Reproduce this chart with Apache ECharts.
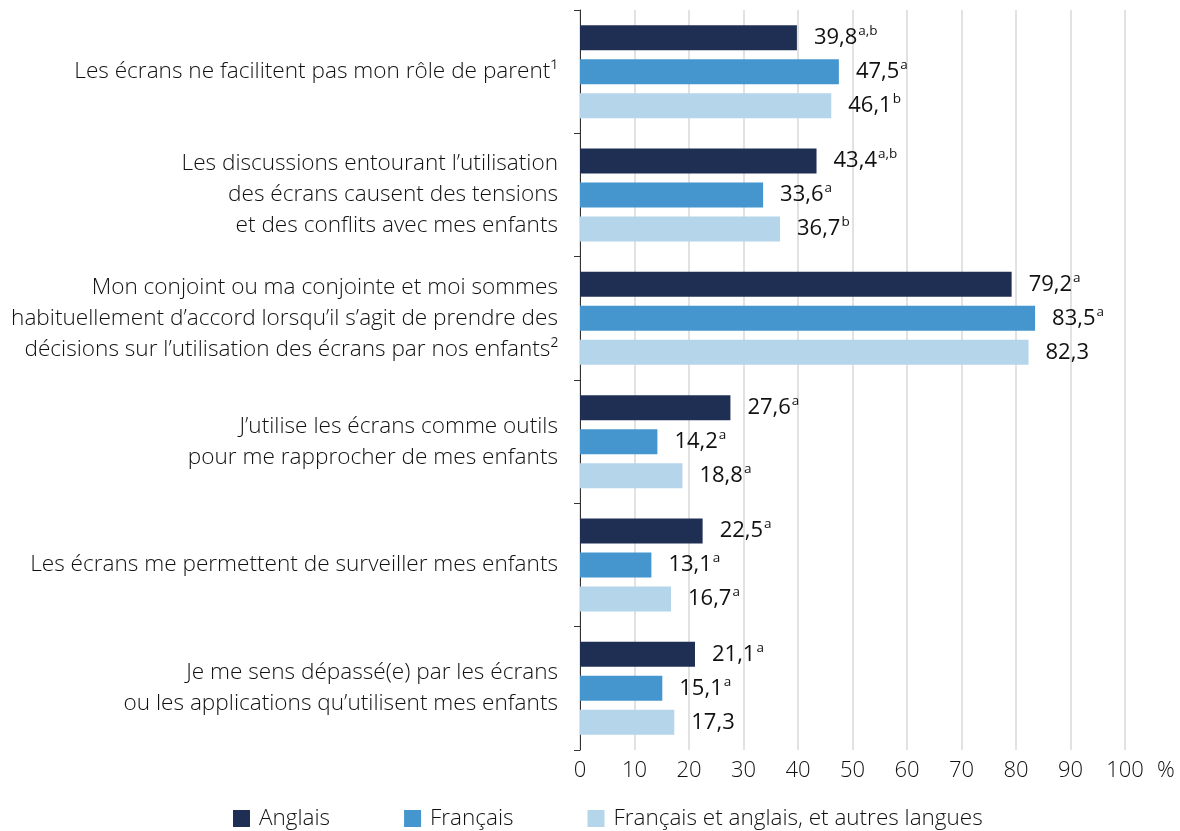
<!DOCTYPE html>
<html><head><meta charset="utf-8">
<script src="https://cdn.jsdelivr.net/npm/echarts@6/dist/echarts.min.js"></script>
<style>html,body{margin:0;padding:0;background:#fff}#c{width:1180px;height:831px}</style>
</head><body><div id="c"></div>
<script>
var categories = [
  "Les écrans ne facilitent pas mon rôle de parent¹",
  "Les discussions entourant l’utilisation\ndes écrans causent des tensions\net des conflits avec mes enfants",
  "Mon conjoint ou ma conjointe et moi sommes\nhabituellement d’accord lorsqu’il s’agit de prendre des\ndécisions sur l’utilisation des écrans par nos enfants²",
  "J’utilise les écrans comme outils\npour me rapprocher de mes enfants",
  "Les écrans me permettent de surveiller mes enfants",
  "Je me sens dépassé(e) par les écrans\nou les applications qu’utilisent mes enfants"
];
var seriesNames = ["Anglais", "Français", "Français et anglais, et autres langues"];
var anglais = [39.8, 43.4, 79.2, 27.6, 22.5, 21.1];
var francais = [47.5, 33.6, 83.5, 14.2, 13.1, 15.1];
var tous = [46.1, 36.7, 82.3, 18.8, 16.7, 17.3];
var anglaisSup = ["a,b", "a,b", "a", "a", "a", "a"];
var francaisSup = ["a", "a", "a", "a", "a", "a"];
var tousSup = ["b", "b", "", "a", "a", ""];
var xTicks = [0, 10, 20, 30, 40, 50, 60, 70, 80, 90, 100];
var colors = ["#1f2f54", "#4596ce", "#b5d5eb"];

var FONT = "'Open Sans', sans-serif";
function v2s(v) { return v.toFixed(1).replace('.', ','); }
function mkSeries(name, vals, sups, color) {
  return {
    name: name, type: 'bar', barWidth: 25, barGap: '36%',
    itemStyle: { color: color },
    data: vals.map(function (v, i) { return { value: v, sup: sups[i] }; }),
    label: {
      show: true, position: 'right', distance: 17,
      formatter: function (p) {
        var sup = p.data.sup;
        return '{v|' + v2s(p.value) + '}' + (sup ? '{s|' + sup + '}' : '');
      },
      rich: {
        v: { fontFamily: FONT, fontSize: 22, color: '#111', lineHeight: 28 },
        s: { fontFamily: FONT, fontSize: 13.5, color: '#111', lineHeight: 28, padding: [0, 0, 13, 1] }
      }
    }
  };
}

var chart = echarts.init(document.getElementById('c'));
chart.setOption({
  animation: false,
  color: colors,
  grid: { left: 580, right: 55, top: 10, bottom: 81, containLabel: false },
  legend: {
    left: 228, top: 802, itemWidth: 17, itemHeight: 17, itemGap: 74,
    icon: 'rect',
    textStyle: { fontFamily: FONT, fontSize: 22.5, fontWeight: 300, color: '#111', padding: [0, 0, 0, 4] },
    data: seriesNames
  },
  xAxis: {
    type: 'value', min: 0, max: 100, interval: 10,
    name: '%', nameLocation: 'end', nameGap: 32,
    nameTextStyle: { fontFamily: FONT, fontSize: 22, fontWeight: 300, color: '#111', verticalAlign: 'top', padding: [10, 0, 0, 0] },
    axisLine: { show: false }, axisTick: { show: false },
    axisLabel: { fontFamily: FONT, fontSize: 22, fontWeight: 300, color: '#111', margin: 10,
      formatter: function (v) { return xTicks.indexOf(v) >= 0 ? String(v) : ''; } },
    splitLine: { show: true, lineStyle: { color: '#d9d9d9', width: 1.5 } }
  },
  yAxis: {
    type: 'category', inverse: true, data: categories,
    axisLine: { show: true, lineStyle: { color: '#333', width: 1 } },
    axisTick: { show: true, length: 6, lineStyle: { color: '#333' } },
    axisLabel: { fontFamily: FONT, fontSize: 22.6, fontWeight: 300, color: '#111', margin: 22, lineHeight: 31, align: 'right' }
  },
  series: [
    mkSeries(seriesNames[0], anglais, anglaisSup, colors[0]),
    mkSeries(seriesNames[1], francais, francaisSup, colors[1]),
    mkSeries(seriesNames[2], tous, tousSup, colors[2])
  ]
});
</script></body></html>
